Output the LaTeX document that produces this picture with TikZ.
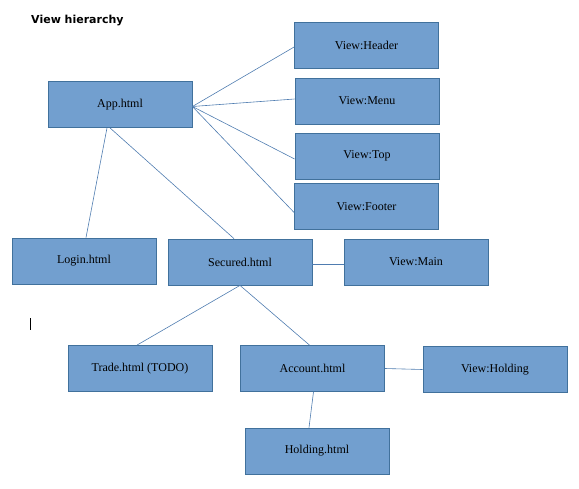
\documentclass[tikz,border=0pt]{standalone}
\usepackage{fontspec}
\setmainfont{Liberation Serif}
\newfontfamily\titlefont{DejaVu Sans}
\usepackage{tikz}
\usetikzlibrary{shapes,arrows}
\definecolor{viewfill}{RGB}{114,159,207}
\definecolor{viewdraw}{RGB}{65,113,156}
\definecolor{viewlink}{RGB}{79,124,176}
\tikzstyle{viewbox}=[rectangle, draw=viewdraw, line width=0.8pt, fill=viewfill, minimum height=46pt, minimum width=144pt, inner sep=0pt, font=\fontsize{12}{14}\selectfont]
\tikzstyle{viewlink}=[draw=viewlink, line width=0.6pt]
\newcommand{\viewbox}[3]{
	\node[viewbox] (#1) at (#2) {#3};}

\begin{document}
\begin{tikzpicture}[x=1pt,y=-1pt]
\useasboundingbox (0,0) rectangle (579,488);
\node[anchor=west, inner sep=0pt, font=\titlefont\bfseries\fontsize{11}{13}\selectfont] (title) at (31,21) {View hierarchy};
\viewbox{app}{120,104.5}{App.html}
\viewbox{header}{366.5,45}{View:Header}
\viewbox{menu}{367,101}{View:Menu}
\viewbox{top}{367,156}{View:Top}
\viewbox{footer}{366.5,206.5}{View:Footer}
\viewbox{login}{84,261}{Login.html}
\viewbox{secured}{240,262}{Secured.html}
\viewbox{main}{416,262}{View:Main}
\viewbox{trade}{140,368.5}{Trade.html (TODO)}
\viewbox{account}{312.5,368.5}{Account.html}
\viewbox{vholding}{495,369.5}{View:Holding}
\viewbox{holding}{317,451}{Holding.html}
\path [viewlink] ([yshift=-2pt]app.east) edge ([yshift=-2pt]header.west);
\path [viewlink] ([yshift=-2pt]app.east) edge ([yshift=2pt]menu.west);
\path [viewlink] ([yshift=-2pt]app.east) edge ([yshift=-3pt]top.west);
\path [viewlink] ([yshift=-2pt]app.east) edge ([yshift=-6pt]footer.west);
\path [viewlink] ([xshift=-13pt]app.south) edge ([xshift=2pt]login.north);
\path [viewlink] ([xshift=-10pt]app.south) edge ([xshift=-6pt]secured.north);
\path [viewlink] ([yshift=-2pt]secured.east) edge ([yshift=-2pt]main.west);
\path [viewlink] (secured.south) edge ([xshift=-3pt]trade.north);
\path [viewlink] (secured.south) edge ([xshift=-3pt]account.north);
\path [viewlink] (account.east) edge (vholding.west);
\path [viewlink] ([xshift=1pt]account.south) edge ([xshift=-8pt]holding.north);
% text cursor
\draw [line width=0.8pt] (30.5,318) -- (30.5,330);
\end{tikzpicture}
\end{document}
